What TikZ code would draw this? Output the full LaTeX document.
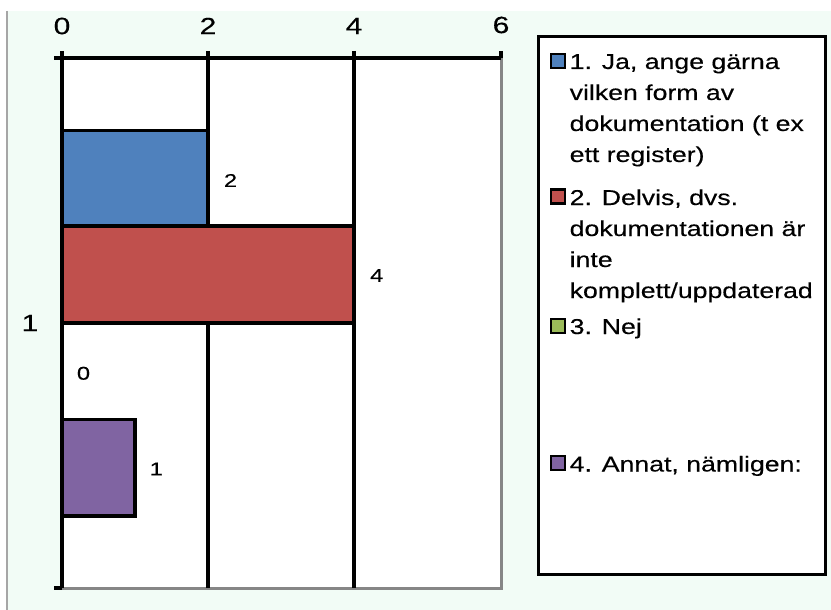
\documentclass[tikz,border=0pt]{standalone}
\usepackage{fontspec}
\setmainfont{Liberation Sans}[FakeBold=0.3]
\usepackage{graphicx}
\definecolor{bg}{RGB}{242,252,246}
\definecolor{cblue}{RGB}{79,129,189}
\definecolor{cred}{RGB}{192,80,77}
\definecolor{cgreen}{RGB}{155,187,89}
\definecolor{cpurple}{RGB}{128,100,162}
\definecolor{axgray}{RGB}{134,134,134}
\newcommand{\sx}[1]{\scalebox{1.28}[1]{#1}}
\newcommand{\sxl}[1]{\scalebox{1.24}[1]{#1}}
\newcommand{\legtext}[1]{\sxl{\begin{tabular}[t]{@{}l@{}}#1\end{tabular}}}
\begin{document}
\begin{tikzpicture}[x=1pt,y=-1pt,
  axlab/.style={font=\fontsize{23.5}{27}\selectfont, inner sep=0},
  datlab/.style={font=\fontsize{18.5}{22}\selectfont, inner sep=0},
  legentry/.style={font=\fontsize{21.5}{31}\selectfont, anchor=base west, inner sep=0},
  gridline/.style={line width=3.2pt, black},
  gborder/.style={line width=3pt, axgray},
  barbox/.style={draw=black, line width=3.2pt},
  legmark/.style={draw=black, line width=2.4pt}]
\useasboundingbox (0,0) rectangle (831,610);
\fill[white] (0,0) rectangle (831,610);
\fill[bg] (7,11) rectangle (831,610);
\draw[line width=1.5pt, black!35] (7,11) -- (7,610);
% plot area
\fill[white] (62,58) rectangle (501,588);
\draw[gborder] (501,58) -- (501,588) -- (54,588);
\draw[gridline] (208,51) -- (208,588);
\draw[gridline] (354,51) -- (354,588);
% bars
\draw[barbox, fill=cblue] (62,130.5) rectangle (208,226);
\draw[barbox, fill=cred] (62,226) rectangle (354,323);
\draw[barbox, fill=cpurple] (62,419.5) rectangle (135,516);
% axes
\draw[gridline] (54,58) -- (501,58);
\draw[gridline] (501,51) -- (501,58);
\draw[gridline] (62,51) -- (62,588);
\draw[gridline] (54,588) -- (62,588);
% axis labels
\node[axlab] (t0) at (62,26) {\sx{0}};
\node[axlab] (t2) at (208,26) {\sx{2}};
\node[axlab] (t4) at (354,26) {\sx{4}};
\node[axlab] (t6) at (501,25) {\sx{6}};
\node[axlab] (cat) at (30,323) {\sx{1}};
% data labels
\node[datlab] (d1) at (230.5,180.5) {\sx{2}};
\node[datlab] (d2) at (376.7,275.5) {\sx{4}};
\node[datlab] (d3) at (83.5,373.3) {\sx{0}};
\node[datlab] (d4) at (156.3,469) {\sx{1}};
% legend
\draw[line width=3pt, fill=white] (538,37) rectangle (825,574);
\draw[legmark, fill=cblue] (551,54) rectangle (565,68);
\draw[legmark, fill=cred] (551,189.5) rectangle (565,203.5);
\draw[legmark, fill=cgreen] (551,319) rectangle (565,333);
\draw[legmark, fill=cpurple] (551,456) rectangle (565,470);
\node[legentry] (l1) at (569.5,69) {\legtext{1. Ja, ange gärna\\vilken form av\\dokumentation (t ex\\ett register)}};
\node[legentry] (l2) at (569.5,205) {\legtext{2. Delvis, dvs.\\dokumentationen är\\inte\\komplett/uppdaterad}};
\node[legentry] (l3) at (569.5,334) {\legtext{3. Nej}};
\node[legentry] (l4) at (569.5,471.5) {\legtext{4. Annat, nämligen:}};
\end{tikzpicture}
\end{document}
